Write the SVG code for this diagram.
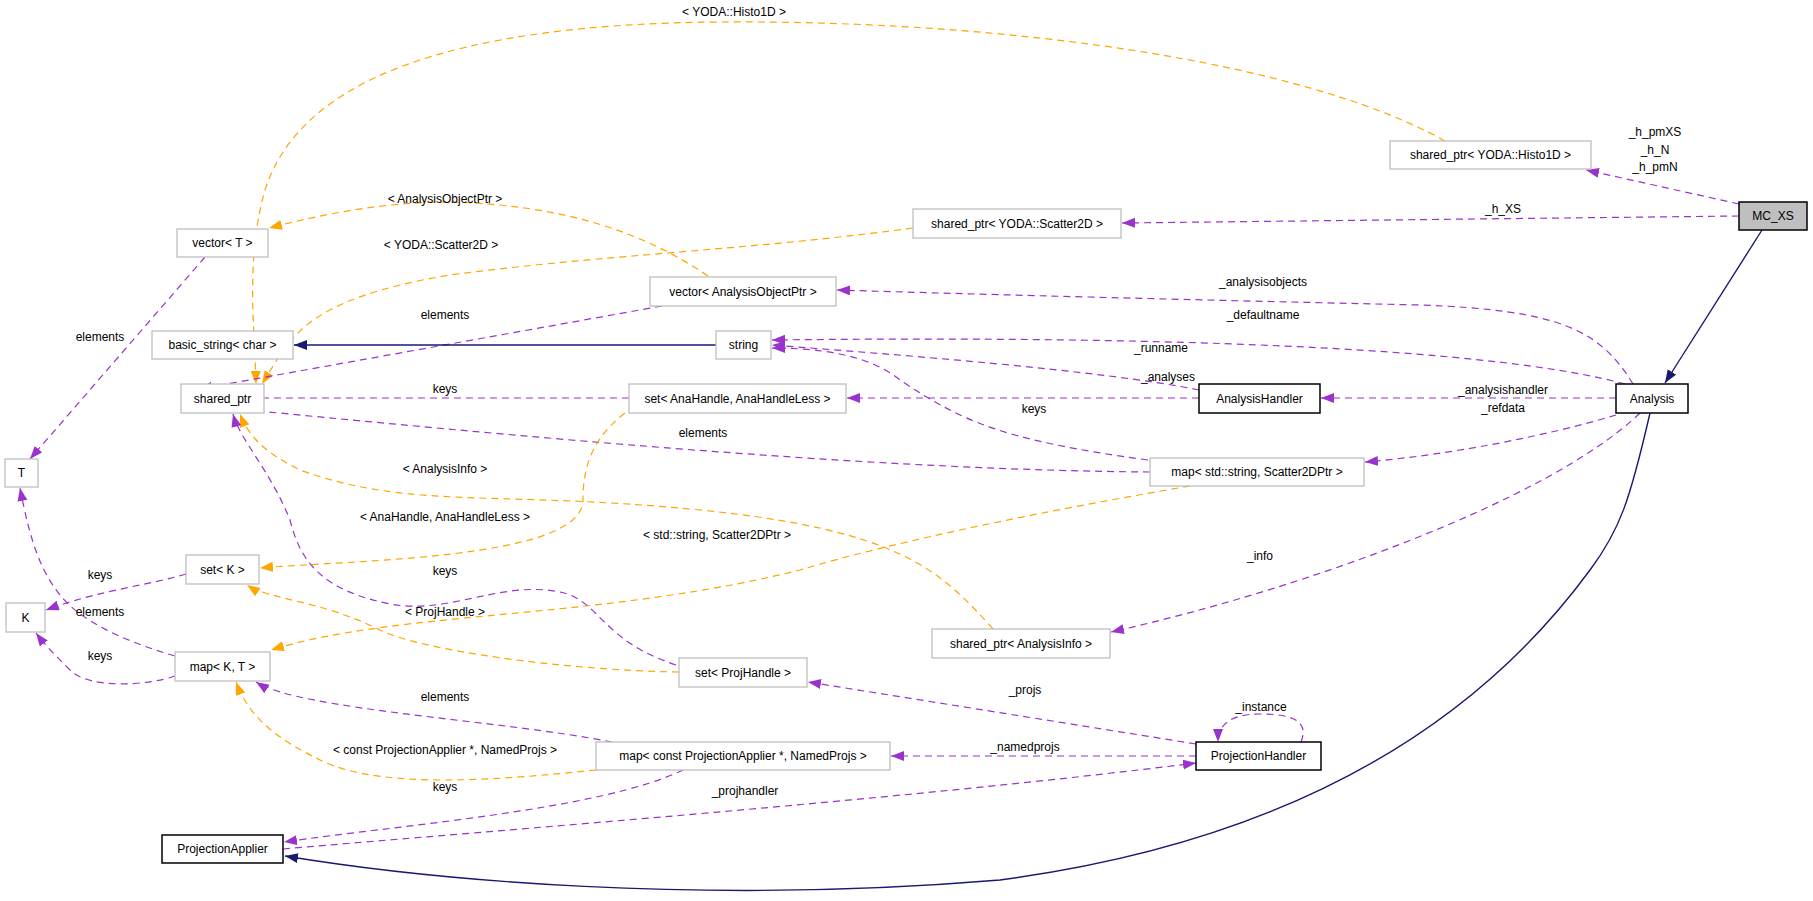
<svg xmlns="http://www.w3.org/2000/svg" width="1813" height="901" viewBox="0 0 1813 901">
<style>
text{font-family:"Liberation Sans",Arial,sans-serif;font-size:12px;fill:#000;text-anchor:middle}
.n rect{fill:#fff;stroke:#bfbfbf;stroke-width:1.3}
.b rect{fill:#fff;stroke:#000;stroke-width:1.5}
.p{fill:none;stroke:#9a32cd;stroke-width:1.2;stroke-dasharray:7,5;marker-end:url(#mp)}
.o{fill:none;stroke:#ffa500;stroke-width:1.2;stroke-dasharray:7,5;marker-end:url(#mo)}
.s{fill:none;stroke:#191970;stroke-width:1.4;marker-end:url(#ms)}
</style>
<defs>
<marker id="mp" markerUnits="userSpaceOnUse" markerWidth="14" markerHeight="12" refX="13" refY="5" orient="auto"><path d="M0,0L13,5L0,10z" fill="#9a32cd"/></marker>
<marker id="mo" markerUnits="userSpaceOnUse" markerWidth="14" markerHeight="12" refX="13" refY="5" orient="auto"><path d="M0,0L13,5L0,10z" fill="#ffa500"/></marker>
<marker id="ms" markerUnits="userSpaceOnUse" markerWidth="14" markerHeight="12" refX="13" refY="5" orient="auto"><path d="M0,0L13,5L0,10z" fill="#191970"/></marker>
</defs>
<rect width="1813" height="901" fill="#fff"/>
<g id="connectors">
<path class="s" d="M1762,230L1665,383"/>
<path class="s" d="M1650,413C1630,500 1620,530 1590,570C1480,720 1300,840 1000,880C700,905 430,880 285,856"/>
<path class="p" d="M1739,204L1586,170"/>
<path class="p" d="M1739,216L1122,223"/>
<path class="o" d="M1445,141C1300,60 1000,20 720,22C450,24 300,80 265,190C245,260 255,330 256,384"/>
<path class="o" d="M913,228C750,250 600,255 450,275C300,300 290,340 262,384"/>
<path class="o" d="M708,276C640,230 560,205 450,202C380,202 320,215 269,228"/>
<path class="p" d="M662,306L199,389"/>
<path class="s" d="M716,345L294,345"/>
<path class="p" d="M1633,384C1600,330 1560,310 1420,305C1200,300 1000,295 837,290"/>
<path class="p" d="M1625,384C1500,350 1200,335 772,340"/>
<path class="p" d="M1199,390C1100,370 900,355 772,345"/>
<path class="p" d="M1148,460C1000,440 960,420 900,380C870,355 820,348 772,348"/>
<path class="p" d="M1616,398L1321,398"/>
<path class="p" d="M1199,398L847,398"/>
<path class="p" d="M629,398L198,398"/>
<path class="p" d="M1150,472C900,470 600,445 198,405"/>
<path class="p" d="M1616,415C1550,435 1450,455 1365,462"/>
<path class="p" d="M1640,413C1550,500 1300,590 1111,632"/>
<path class="o" d="M625,413C590,440 583,470 583,500C583,560 350,560 260,568"/>
<path class="o" d="M993,629C940,570 900,530 700,510C500,490 410,510 300,470C270,455 250,440 240,414"/>
<path class="o" d="M1190,486C1050,510 900,540 800,570C600,620 400,610 271,650"/>
<path class="o" d="M679,672C560,670 420,650 380,630C320,600 270,600 247,585"/>
<path class="p" d="M676,665C600,640 600,600 560,592C500,580 450,615 390,604C320,590 300,560 290,520C270,470 240,440 233,414"/>
<path class="p" d="M205,257L30,459"/>
<path class="p" d="M186,574C150,585 100,590 46,610"/>
<path class="p" d="M175,656C120,640 80,620 60,595C40,570 30,540 20,488"/>
<path class="p" d="M175,676C150,685 90,690 70,670C55,655 45,645 36,633"/>
<path class="p" d="M1196,744L808,682"/>
<path class="p" d="M1301,742C1310,720 1290,714 1260,714C1230,714 1218,725 1218,742"/>
<path class="p" d="M1196,756L891,756"/>
<path class="p" d="M612,742C500,720 300,710 256,682"/>
<path class="o" d="M596,770C500,780 380,790 320,760C280,740 250,720 236,682"/>
<path class="p" d="M683,770C600,810 400,825 284,842"/>
<path class="p" d="M283,849C500,830 900,800 1196,763"/>
</g>
<g font-size="12">
<text x="1655" y="136">_h_pmXS</text>
<text x="1655" y="154">_h_N</text>
<text x="1655" y="171">_h_pmN</text>
<text x="1503" y="213">_h_XS</text>
<text x="734" y="16">&lt; YODA::Histo1D &gt;</text>
<text x="441" y="249">&lt; YODA::Scatter2D &gt;</text>
<text x="445" y="203">&lt; AnalysisObjectPtr &gt;</text>
<text x="445" y="319">elements</text>
<text x="1263" y="286">_analysisobjects</text>
<text x="1263" y="319">_defaultname</text>
<text x="1161" y="352">_runname</text>
<text x="1168" y="381">_analyses</text>
<text x="1034" y="413">keys</text>
<text x="1503" y="394">_analysishandler</text>
<text x="1503" y="412">_refdata</text>
<text x="445" y="393">keys</text>
<text x="703" y="437">elements</text>
<text x="1260" y="560">_info</text>
<text x="445" y="521">&lt; AnaHandle, AnaHandleLess &gt;</text>
<text x="445" y="473">&lt; AnalysisInfo &gt;</text>
<text x="717" y="539">&lt; std::string, Scatter2DPtr &gt;</text>
<text x="445" y="616">&lt; ProjHandle &gt;</text>
<text x="445" y="575">keys</text>
<text x="100" y="341">elements</text>
<text x="100" y="579">keys</text>
<text x="100" y="616">elements</text>
<text x="100" y="660">keys</text>
<text x="1025" y="694">_projs</text>
<text x="1261" y="711">_instance</text>
<text x="1025" y="751">_namedprojs</text>
<text x="445" y="701">elements</text>
<text x="445" y="754">&lt; const ProjectionApplier *, NamedProjs &gt;</text>
<text x="445" y="791">keys</text>
<text x="745" y="795">_projhandler</text>
</g>
<g id="MC_XS"><rect x="1739" y="202" width="68" height="28" fill="#bfbfbf" stroke="#000" stroke-width="1.5"/><text x="1773" y="220">MC_XS</text></g>
<g id="Analysis" class="b"><rect x="1616" y="384" width="72" height="29"/><text x="1652" y="403">Analysis</text></g>
<g id="AnalysisHandler" class="b"><rect x="1199" y="384" width="121" height="29"/><text x="1259.5" y="403">AnalysisHandler</text></g>
<g id="ProjectionHandler" class="b"><rect x="1196" y="742" width="125" height="28"/><text x="1258.5" y="760">ProjectionHandler</text></g>
<g id="ProjectionApplier" class="b"><rect x="162" y="835" width="121" height="28"/><text x="222.5" y="853">ProjectionApplier</text></g>
<g id="sp_histo" class="n"><rect x="1390" y="141" width="201" height="28"/><text x="1490.5" y="159">shared_ptr&lt; YODA::Histo1D &gt;</text></g>
<g id="sp_scatter" class="n"><rect x="913" y="209" width="208" height="29"/><text x="1017" y="228">shared_ptr&lt; YODA::Scatter2D &gt;</text></g>
<g id="vec_aop" class="n"><rect x="650" y="277" width="186" height="29"/><text x="743" y="296">vector&lt; AnalysisObjectPtr &gt;</text></g>
<g id="vecT" class="n"><rect x="177" y="229" width="91" height="28"/><text x="222.5" y="247">vector&lt; T &gt;</text></g>
<g id="basic_string" class="n"><rect x="152" y="331" width="141" height="28"/><text x="222.5" y="349">basic_string&lt; char &gt;</text></g>
<g id="string" class="n"><rect x="716" y="331" width="55" height="28"/><text x="743.5" y="349">string</text></g>
<g id="shared_ptr" class="n"><rect x="181" y="384" width="83" height="29"/><text x="222.5" y="403">shared_ptr</text></g>
<g id="set_ana" class="n"><rect x="629" y="384" width="217" height="29"/><text x="737.5" y="403">set&lt; AnaHandle, AnaHandleLess &gt;</text></g>
<g id="map_scatter" class="n"><rect x="1150" y="458" width="214" height="28"/><text x="1257" y="476">map&lt; std::string, Scatter2DPtr &gt;</text></g>
<g id="T" class="n"><rect x="5" y="459" width="33" height="28"/><text x="21.5" y="477">T</text></g>
<g id="setK" class="n"><rect x="186" y="555" width="73" height="29"/><text x="222.5" y="574">set&lt; K &gt;</text></g>
<g id="K" class="n"><rect x="6" y="603" width="39" height="29"/><text x="25.5" y="622">K</text></g>
<g id="mapKT" class="n"><rect x="175" y="652" width="95" height="29"/><text x="222.5" y="671">map&lt; K, T &gt;</text></g>
<g id="sp_info" class="n"><rect x="932" y="629" width="178" height="29"/><text x="1021" y="648">shared_ptr&lt; AnalysisInfo &gt;</text></g>
<g id="set_proj" class="n"><rect x="679" y="658" width="128" height="29"/><text x="743" y="677">set&lt; ProjHandle &gt;</text></g>
<g id="map_pa" class="n"><rect x="596" y="742" width="294" height="28"/><text x="743" y="760">map&lt; const ProjectionApplier *, NamedProjs &gt;</text></g>
</svg>
